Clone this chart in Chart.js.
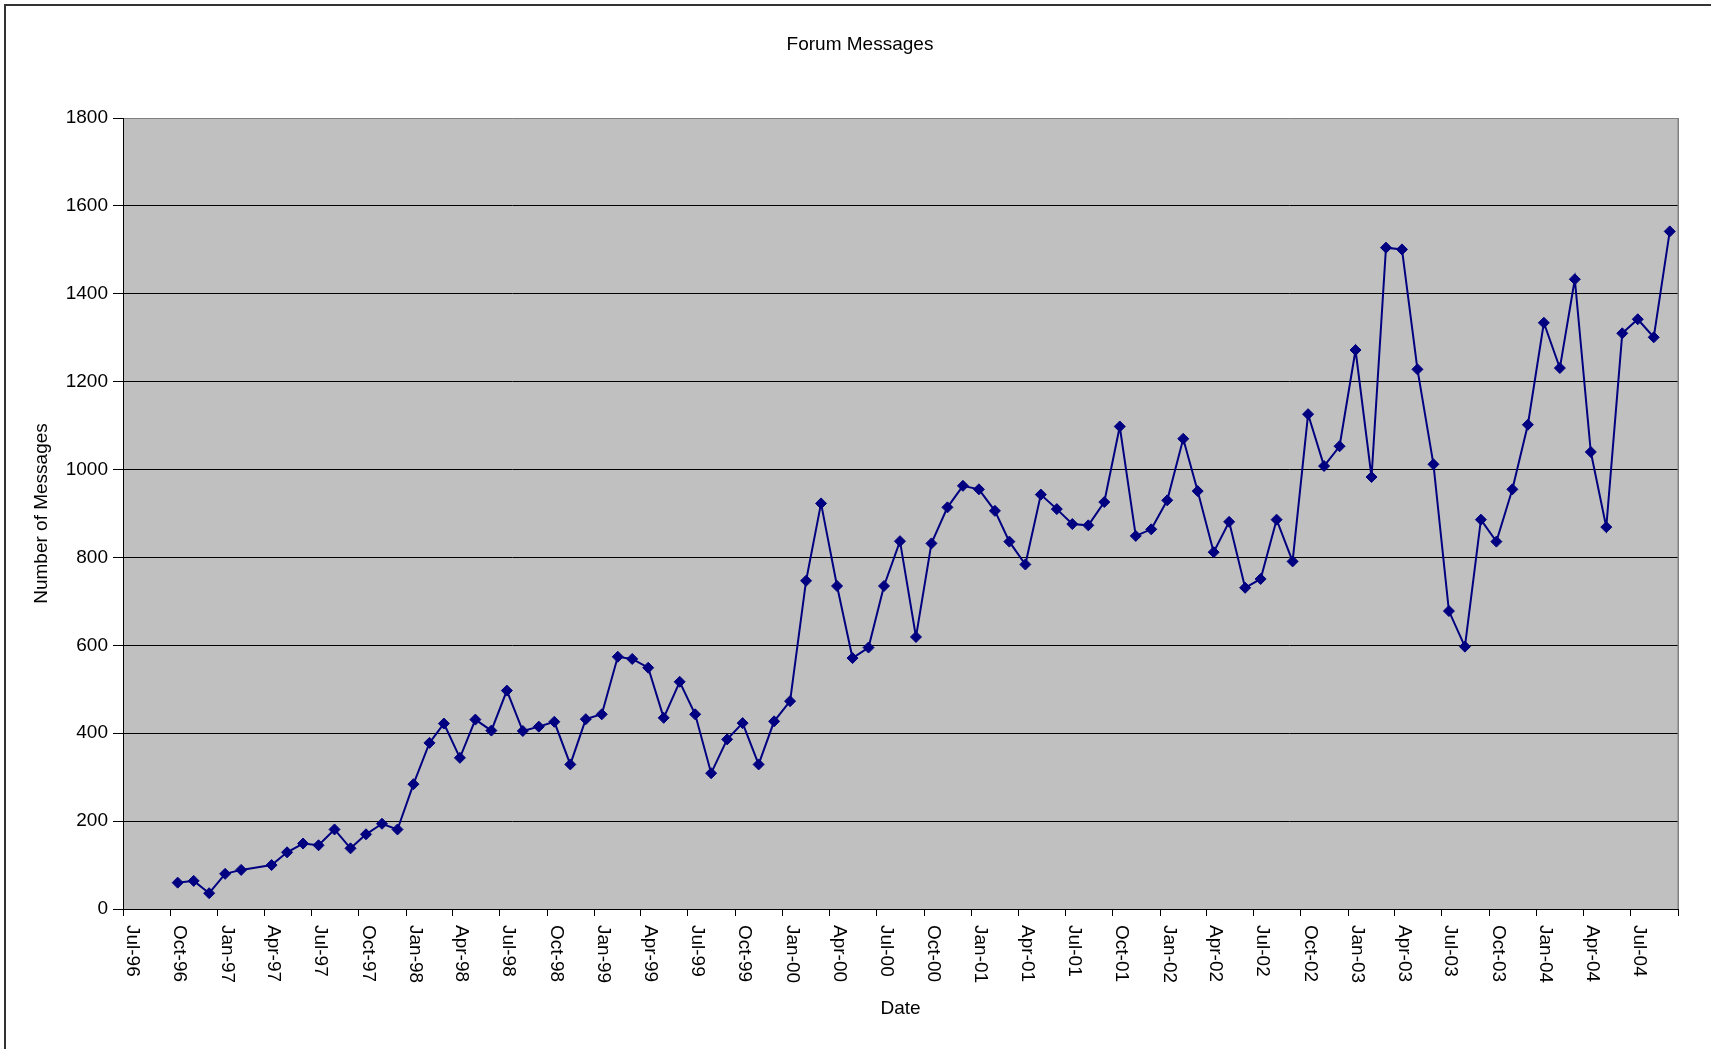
<!DOCTYPE html>
<html>
<head>
<meta charset="utf-8">
<script src="https://cdn.jsdelivr.net/npm/chart.js@4/dist/chart.umd.min.js"></script>
<style>
  html, body { margin: 0; padding: 0; background: #fff; }
  #wrap { width: 1711px; height: 1049px; }
</style>
</head>
<body>
<div id="wrap"><canvas id="chart" width="1711" height="1049"></canvas></div>
<script>
// monthly message counts (March 1997 is missing in the source)
const months = [
  '1996-10','1996-11','1996-12',
  '1997-01','1997-02','1997-04','1997-05','1997-06','1997-07','1997-08','1997-09','1997-10','1997-11','1997-12',
  '1998-01','1998-02','1998-03','1998-04','1998-05','1998-06','1998-07','1998-08','1998-09','1998-10','1998-11','1998-12',
  '1999-01','1999-02','1999-03','1999-04','1999-05','1999-06','1999-07','1999-08','1999-09','1999-10','1999-11','1999-12',
  '2000-01','2000-02','2000-03','2000-04','2000-05','2000-06','2000-07','2000-08','2000-09','2000-10','2000-11','2000-12',
  '2001-01','2001-02','2001-03','2001-04','2001-05','2001-06','2001-07','2001-08','2001-09','2001-10','2001-11','2001-12',
  '2002-01','2002-02','2002-03','2002-04','2002-05','2002-06','2002-07','2002-08','2002-09','2002-10','2002-11','2002-12',
  '2003-01','2003-02','2003-03','2003-04','2003-05','2003-06','2003-07','2003-08','2003-09','2003-10','2003-11','2003-12',
  '2004-01','2004-02','2004-03','2004-04','2004-05','2004-06','2004-07','2004-08','2004-09'
];

const messages = [
  60, 64, 36,
  80, 89, 100, 129, 149, 145, 181, 138, 170, 194, 181,
  284, 378, 422, 344, 431, 406, 497, 405, 415, 426, 329, 432,
  443, 574, 569, 549, 435, 517, 443, 309, 386, 423, 329, 427,
  473, 747, 923, 735, 571, 595, 735, 837, 619, 832, 914, 963,
  955, 906, 836, 784, 943, 910, 876, 873, 926, 1098, 849, 864,
  930, 1070, 951, 812, 881, 731, 751, 886, 791, 1126, 1008, 1053,
  1272, 983, 1505, 1501, 1228, 1012, 678, 597, 886, 836, 955, 1102,
  1334, 1231, 1433, 1040, 869, 1310, 1342, 1301, 1542
];

// quarter tick labels along the date axis (last tick Oct-04 has no label)
const tickLabels = [
  'Jul-96','Oct-96','Jan-97','Apr-97','Jul-97','Oct-97','Jan-98','Apr-98','Jul-98','Oct-98',
  'Jan-99','Apr-99','Jul-99','Oct-99','Jan-00','Apr-00','Jul-00','Oct-00','Jan-01','Apr-01',
  'Jul-01','Oct-01','Jan-02','Apr-02','Jul-02','Oct-02','Jan-03','Apr-03','Jul-03','Oct-03',
  'Jan-04','Apr-04','Jul-04',''
];

const yTicks = [0, 200, 400, 600, 800, 1000, 1200, 1400, 1600, 1800];

const monthNames = ['Jan','Feb','Mar','Apr','May','Jun','Jul','Aug','Sep','Oct','Nov','Dec'];
const DAY = 86400000;
const dayNum = (y, m, d) => Date.UTC(y, m, d) / DAY;

// tick positions: first of the month of each quarter label
const tickDays = tickLabels.map((lab, i) => {
  if (lab === '') return dayNum(2004, 9, 1);
  const [mon, yy] = lab.split('-');
  return dayNum(1900 + (+yy < 50 ? 100 : 0) + +yy, monthNames.indexOf(mon), 1);
});

const points = months.map((m, i) => {
  const [y, mo] = m.split('-').map(Number);
  return { x: dayNum(y, mo - 1, 15), y: messages[i] };
});

const FONT = 'Liberation Sans, Arial, sans-serif';

const frame = {
  id: 'frame',
  beforeDraw(chart) {
    const {ctx, chartArea: a} = chart;
    ctx.save();
    ctx.fillStyle = '#ffffff';
    ctx.fillRect(0, 0, chart.width, chart.height);
    ctx.fillStyle = '#c0c0c0';
    ctx.fillRect(a.left, a.top, a.right - a.left, a.bottom - a.top);
    ctx.restore();
  },
  afterDraw(chart) {
    const {ctx, chartArea: a} = chart;
    const xs = chart.scales.x;
    ctx.save();
    // right plot border
    ctx.fillStyle = '#808080';
    ctx.fillRect(a.right - 0.5, a.top, 1.5, a.bottom - a.top);
    // outer chart border (top and left)
    ctx.fillStyle = '#333333';
    ctx.fillRect(4, 4, chart.width - 4, 2);
    ctx.fillRect(4, 4, 2, chart.height - 4);
    // title
    ctx.fillStyle = '#000';
    ctx.font = '19px ' + FONT;
    ctx.textAlign = 'center';
    ctx.textBaseline = 'middle';
    ctx.fillText('Forum Messages', 860, 44.5);
    // x tick labels, rotated to read downward
    ctx.textAlign = 'left';
    xs.ticks.forEach((t, i) => {
      const lab = tickLabels[i];
      if (!lab) return;
      const px = xs.getPixelForValue(t.value);
      ctx.save();
      ctx.translate(px + 9, 925);
      ctx.rotate(Math.PI / 2);
      ctx.fillText(lab, 0, 0);
      ctx.restore();
    });
    ctx.restore();
  }
};

new Chart(document.getElementById('chart'), {
  type: 'line',
  data: {
    datasets: [{
      label: 'Forum Messages',
      data: points,
      borderColor: '#000080',
      backgroundColor: '#000080',
      borderWidth: 2,
      tension: 0,
      pointStyle: 'rectRot',
      pointRadius: 5.5,
      pointBorderWidth: 1,
      pointBackgroundColor: '#000080',
      pointBorderColor: '#000080'
    }]
  },
  options: {
    responsive: false,
    animation: false,
    layout: { padding: { left: 0, right: 33, top: 118, bottom: 0 } },
    plugins: {
      legend: { display: false },
      title: { display: false },
      tooltip: { enabled: false }
    },
    scales: {
      x: {
        type: 'linear',
        min: tickDays[0],
        max: tickDays[tickDays.length - 1],
        afterBuildTicks: s => { s.ticks = tickDays.map(v => ({ value: v })); },
        afterFit: s => { s.height = 140; },
        ticks: { display: false },
        grid: { drawOnChartArea: false, drawTicks: true, tickLength: 7, color: '#000' },
        border: { color: '#000', width: 1 },
        title: {
          display: true, text: 'Date', color: '#000',
          font: { family: FONT, size: 19 },
          padding: { top: 0, bottom: 28.5 }
        }
      },
      y: {
        min: 0,
        max: 1800,
        afterBuildTicks: s => { s.ticks = yTicks.map(v => ({ value: v })); },
        afterFit: s => { s.width = 123; },
        ticks: {
          color: '#000',
          font: { family: FONT, size: 19 },
          padding: 5,
          callback: v => String(v)
        },
        grid: {
          color: c => (c.tick && c.tick.value === 1800 ? '#808080' : '#000'),
          tickColor: '#000',
          tickLength: 10,
          lineWidth: 1
        },
        border: { color: '#000', width: 1 },
        title: {
          display: true, text: 'Number of Messages', color: '#000',
          font: { family: FONT, size: 19 },
          padding: { top: 30, bottom: 0 }
        }
      }
    }
  },
  plugins: [frame]
});
</script>
</body>
</html>
